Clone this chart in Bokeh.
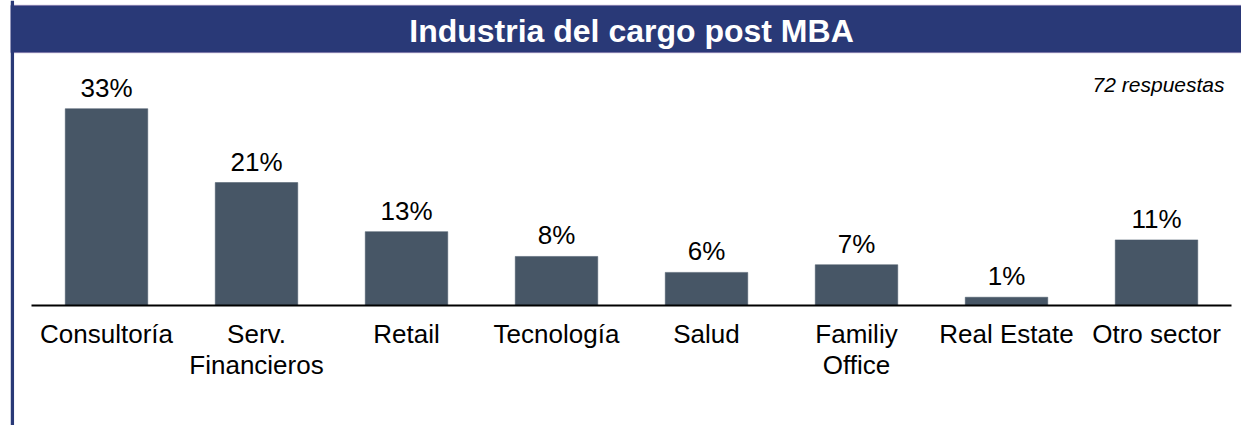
from bokeh.plotting import figure
from bokeh.models import ColumnDataSource, BoxAnnotation, Span, Label, Range1d
from bokeh.core.properties import value
from bokeh.embed import file_html
from bokeh.resources import INLINE

# ---- data ----
categories = ["Consultoría", "Serv.\nFinancieros", "Retail", "Tecnología", "Salud",
              "Familiy\nOffice", "Real Estate", "Otro sector"]
shares = [33.3, 20.8, 12.5, 8.3, 5.6, 6.9, 1.4, 11.1]
share_labels = ["33%", "21%", "13%", "8%", "6%", "7%", "1%", "11%"]
title_text = "Industria del cargo post MBA"
note_text = "72 respuestas"

# ---- styling / layout (page pixel geometry) ----
FONT = "Liberation Sans"
BAR_COLOR = "#475666"
HEADER_COLOR = "#293977"
HEADER_BORDER = "#4A2C80"
W, H = 1241, 425
LEFT_BORDER = 10
PX_PER_X = 150.0
PX_PER_Y = 5.91
FIRST_CENTER_PX = 106.0
BASELINE_PX = 305.0

def xd(px):
    return (px - FIRST_CENTER_PX) / PX_PER_X

def yd(py):
    return (BASELINE_PX - py) / PX_PER_Y

n = len(categories)
xs = list(range(n))
src = ColumnDataSource(dict(x=xs, top=shares, lab=share_labels, cat=categories,
                            zero=[0] * n))

p = figure(width=W, height=H, output_backend="svg", toolbar_location=None,
           x_range=Range1d(xd(LEFT_BORDER), xd(W)), y_range=Range1d(yd(H), yd(0)),
           min_border_left=LEFT_BORDER, min_border_right=0, min_border_top=0,
           min_border_bottom=0)
p.axis.visible = False
p.grid.visible = False
p.outline_line_color = None
p.background_fill_color = "white"
p.border_fill_color = "white"

# header band
p.add_layout(BoxAnnotation(top=yd(5), bottom=yd(52), fill_color=HEADER_COLOR, fill_alpha=1,
                           line_color=HEADER_BORDER, line_width=1.5, level="underlay"))
# left border
p.add_layout(Span(location=xd(11.8), dimension="height",
                  line_color=HEADER_COLOR, line_width=3.5))

# bars
p.vbar(x="x", top="top", bottom=0, width=0.55, source=src,
       fill_color=BAR_COLOR, line_color=BAR_COLOR, line_width=0.5)

# baseline
p.segment(x0=-0.5, x1=n - 0.5, y0=0, y1=0, line_color="black", line_width=2)

# value labels
p.text(x="x", y="top", text="lab", source=src, text_align="center",
       text_baseline="top", y_offset=-36, text_font=value(FONT),
       text_font_size="26px", text_color="black")

# category labels
p.text(x="x", y="zero", text="cat", source=src, text_align="center",
       text_baseline="top", y_offset=13, text_font=value(FONT),
       text_font_size="26px", text_color="black", text_line_height=1.04)

# title
p.add_layout(Label(x=(n - 1) / 2, y=yd(12), text=title_text, text_align="center",
                   text_baseline="top", text_font=FONT, text_font_size="32px",
                   text_font_style="bold", text_color="white"))
# note
p.add_layout(Label(x=xd(1224), y=yd(72), text=note_text,
                   text_align="right", text_baseline="top", text_font=FONT,
                   text_font_size="21px", text_font_style="italic", text_color="black"))

open("out.html", "w").write(file_html(p, INLINE))
